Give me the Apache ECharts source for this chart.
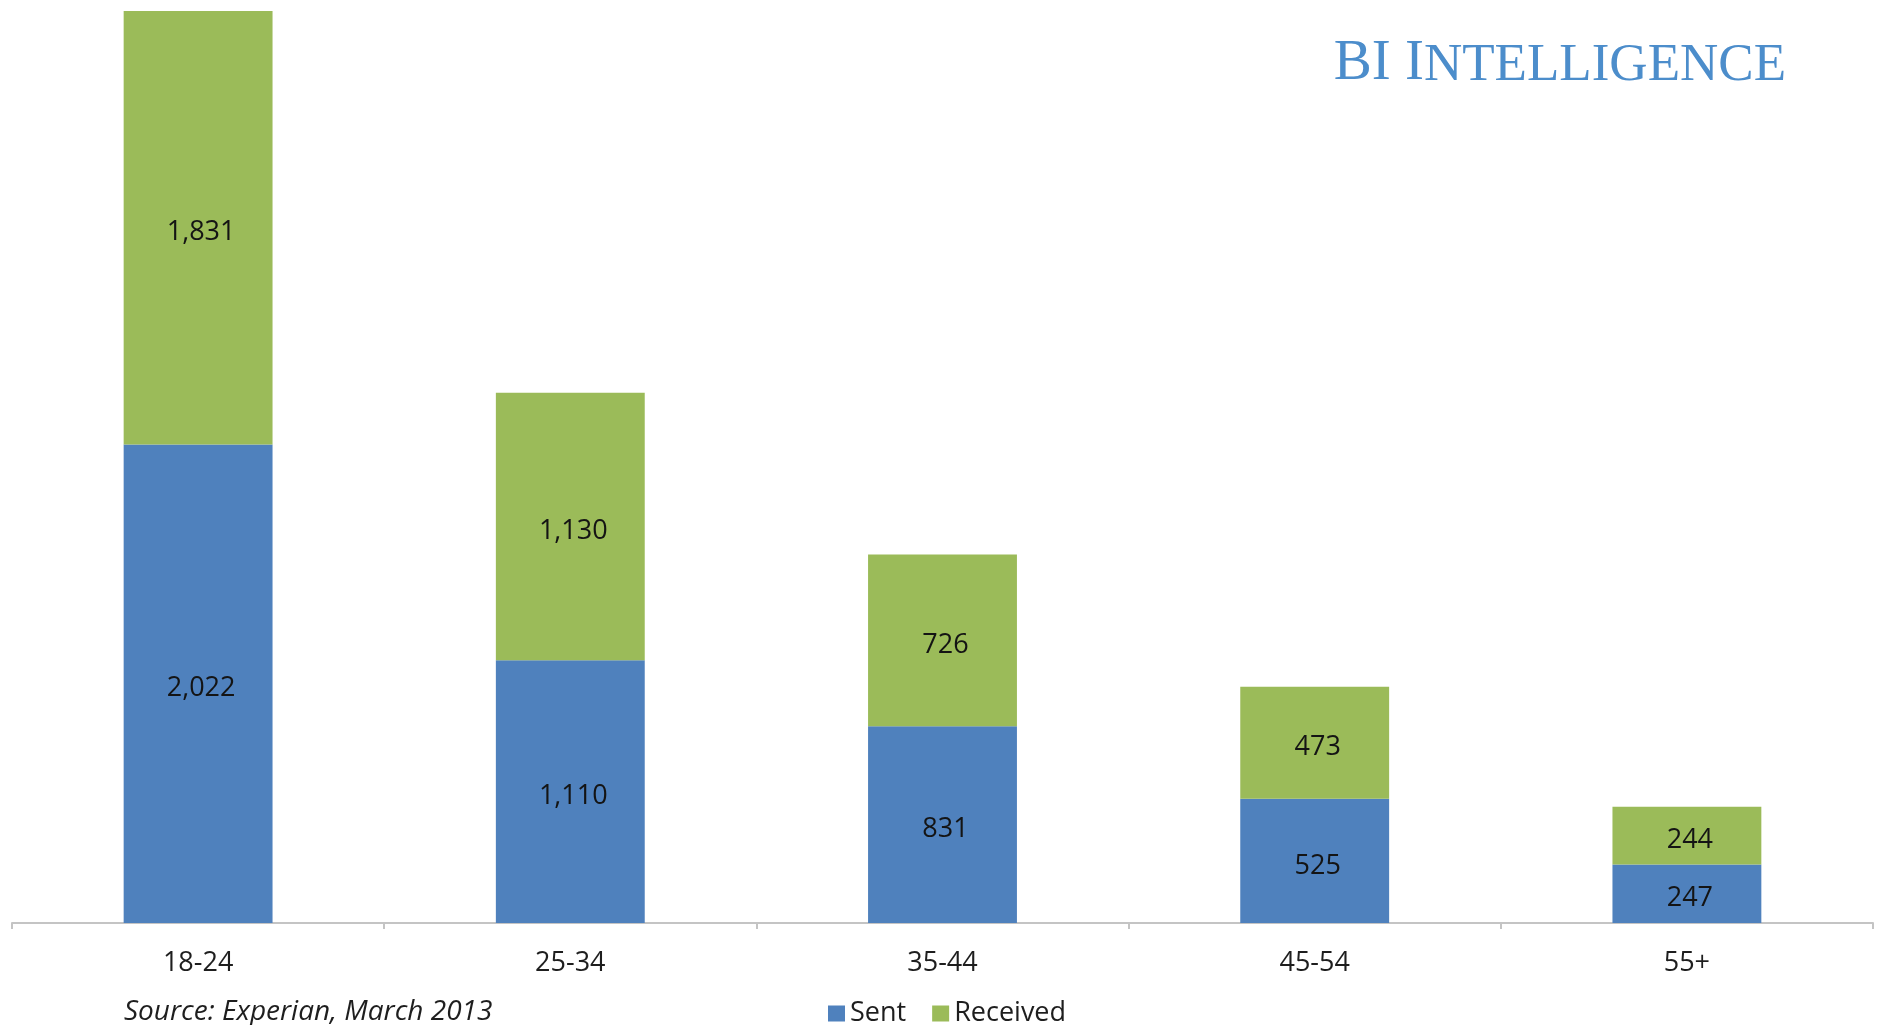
<!DOCTYPE html>
<html>
<head>
<meta charset="utf-8">
<title>Texts sent and received by age group</title>
<script src="https://cdn.jsdelivr.net/npm/echarts@6/dist/echarts.min.js"></script>
<style>
  html, body { margin: 0; padding: 0; background: #ffffff; }
  #chart { width: 1883px; height: 1025px; }
</style>
</head>
<body>
<div id="chart"></div>
<script>
// Monthly texts by age group
const ageGroups = ['18-24', '25-34', '35-44', '45-54', '55+'];
const sent = [2022, 1110, 831, 525, 247];
const received = [1831, 1130, 726, 473, 244];

const FONT = '"Open Sans", "Noto Sans", sans-serif';
const SERIF = '"Liberation Serif", "DejaVu Serif", serif';
const fmt = v => v.toLocaleString('en-US');

const chart = echarts.init(document.getElementById('chart'), null, { renderer: 'canvas' });

const labelStyle = {
  show: true,
  position: 'inside',
  offset: [3, 5],
  fontFamily: FONT,
  fontSize: 27,
  color: '#141414',
  formatter: p => fmt(p.value)
};

chart.setOption({
  animation: false,
  backgroundColor: '#ffffff',
  grid: { left: 12, right: 10, top: 0, bottom: 102, containLabel: false },
  xAxis: {
    type: 'category',
    data: ageGroups,
    boundaryGap: true,
    axisLine: { show: true, lineStyle: { color: '#c4c4c4', width: 2 } },
    axisTick: { show: true, length: 6, inside: false, lineStyle: { color: '#c4c4c4', width: 2 } },
    axisLabel: { margin: 27, fontFamily: FONT, fontSize: 27, color: '#1e1e1e' },
    splitLine: { show: false }
  },
  yAxis: {
    type: 'value',
    min: 0,
    max: 3900,
    show: false,
    splitLine: { show: false }
  },
  legend: {
    data: ['Sent', 'Received'],
    left: 823,
    top: 995,
    itemWidth: 17,
    itemHeight: 16,
    itemGap: 26,
    icon: 'rect',
    textStyle: { fontFamily: FONT, fontSize: 27, color: '#1e1e1e' }
  },
  series: [
    {
      name: 'Sent',
      type: 'bar',
      stack: 'texts',
      barWidth: '40%',
      data: sent,
      itemStyle: { color: '#4f81bd' },
      label: labelStyle
    },
    {
      name: 'Received',
      type: 'bar',
      stack: 'texts',
      barWidth: '40%',
      data: received,
      itemStyle: { color: '#9bbb59' },
      label: labelStyle
    }
  ],
  graphic: [
    {
      type: 'text',
      left: 124,
      top: 998,
      style: {
        text: 'Source: Experian, March 2013',
        font: 'italic 28px ' + FONT,
        fill: '#1e1e1e'
      }
    },
    {
      type: 'text',
      right: 97,
      top: 36,
      style: {
        text: '{big|BI I}{small|NTELLIGENCE}',
        rich: {
          big: { fontFamily: SERIF, fontSize: 57, fill: '#4c8dcb', verticalAlign: 'bottom' },
          small: { fontFamily: SERIF, fontSize: 53, fill: '#4c8dcb', verticalAlign: 'bottom' }
        }
      }
    }
  ]
});
</script>
</body>
</html>
